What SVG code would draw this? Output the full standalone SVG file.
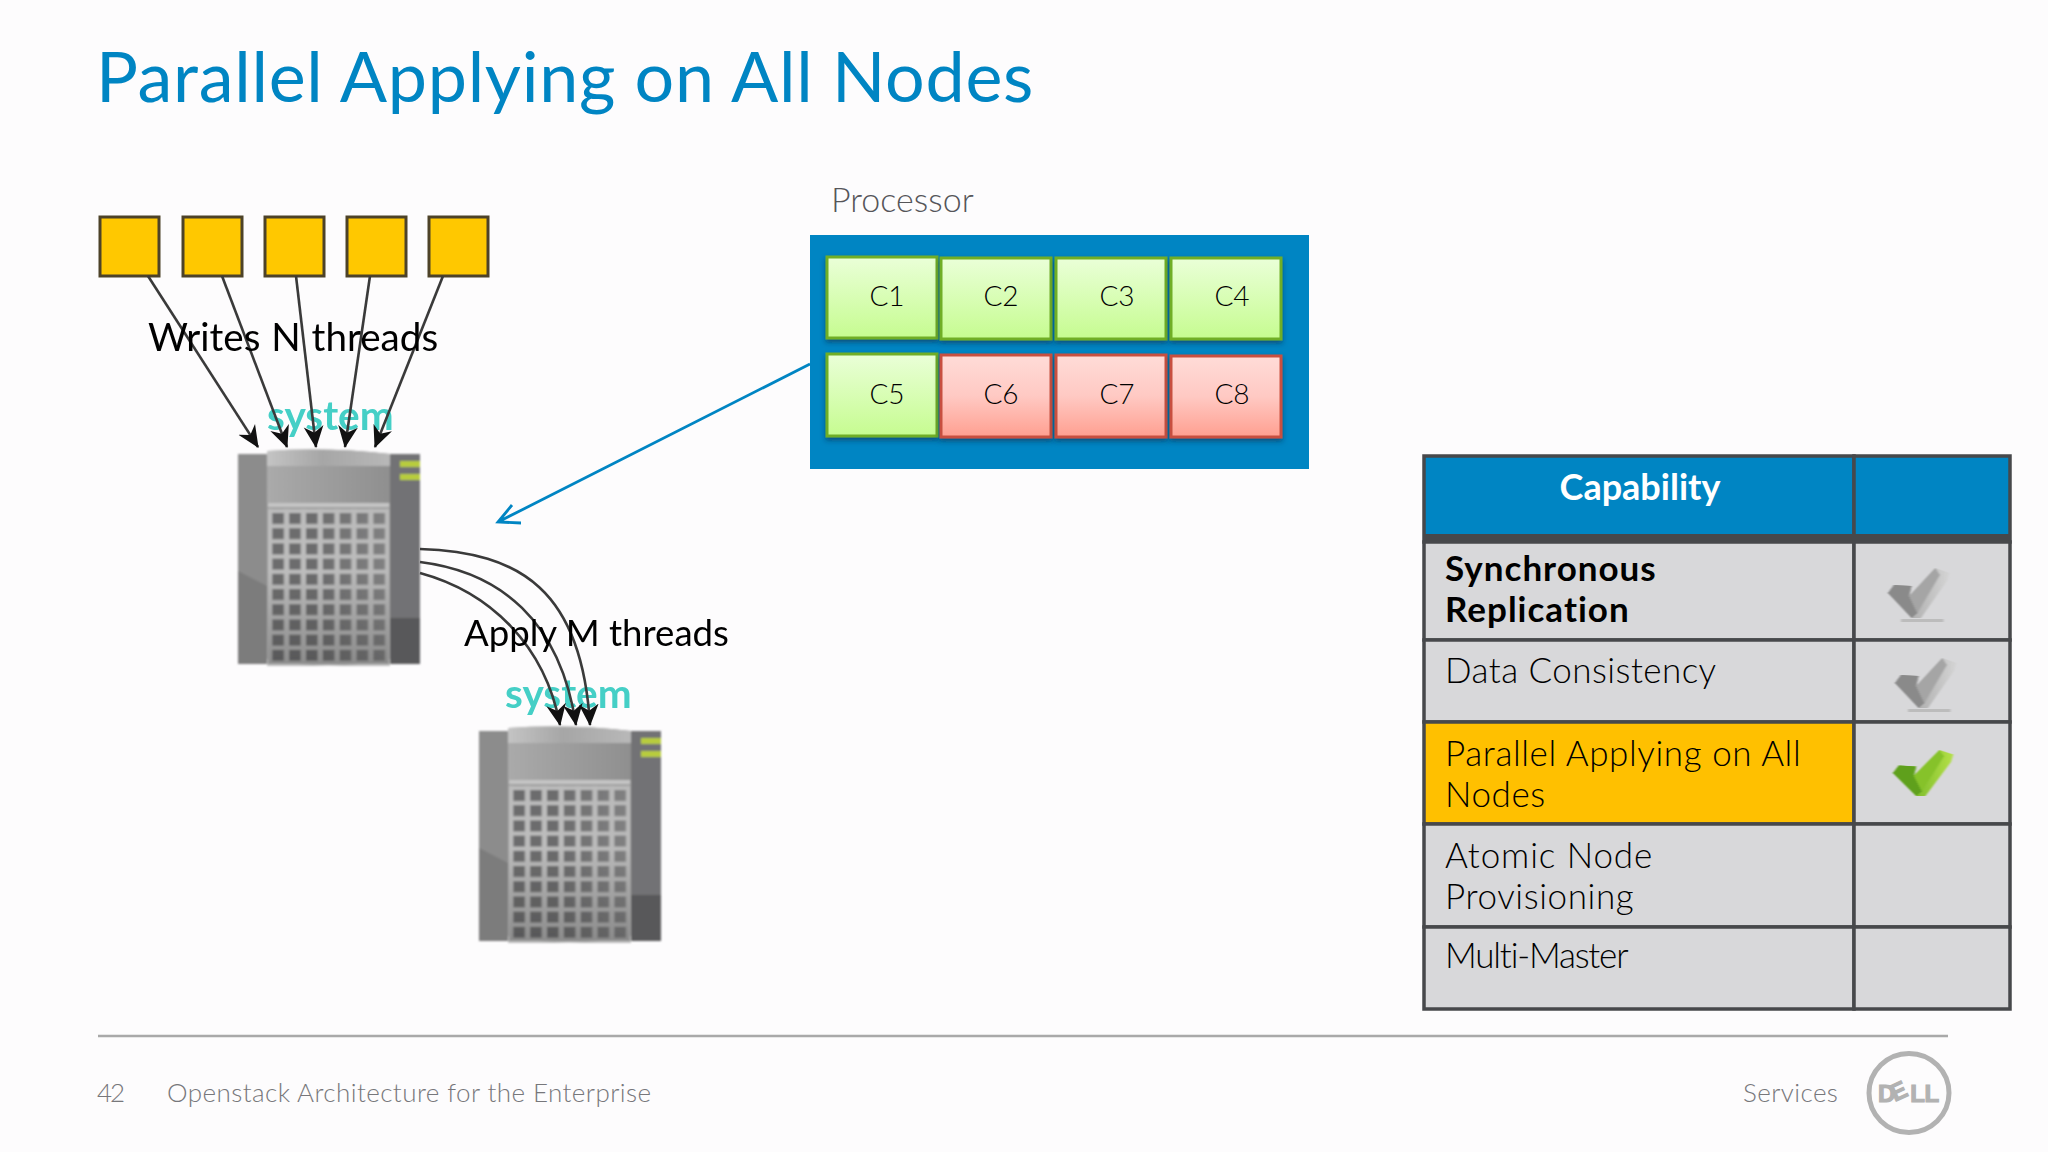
<svg xmlns="http://www.w3.org/2000/svg" xmlns:xlink="http://www.w3.org/1999/xlink" width="2048" height="1152" viewBox="0 0 2048 1152">
<style>
text{font-family:"Lato","Open Sans","Liberation Sans",sans-serif;font-weight:300}
.title{font-size:70px;fill:#0085c3;font-weight:400;letter-spacing:0.7px}
.foot{font-size:26px;fill:#77777b;letter-spacing:0.42px}
.hand{font-size:38.6px;fill:#000;font-weight:400;filter:url(#soft)}
.hand2{font-size:36.6px;fill:#000;font-weight:400;filter:url(#soft)}
.sys{font-size:40.5px;fill:#45cfc6;font-weight:700;filter:url(#soft)}
.core{font-size:28px;fill:#000;text-anchor:middle;font-weight:300}
.cell{font-size:35px;fill:#000;letter-spacing:0.6px}
.bold{font-weight:700;letter-spacing:1px}
.y{fill:#ffc800;stroke:#4d4228;stroke-width:3}
.arrow{fill:none;stroke:#3a3a3a;stroke-width:2.6;marker-end:url(#blk)}
.g{fill:url(#gg);stroke:#6fae25;stroke-width:3}
.r{fill:url(#rg);stroke:#c8503f;stroke-width:3}
.tb{stroke:#47484b;stroke-width:3.5;fill:#d8d8da}
</style>
<defs>
<filter id="soft" x="-5%" y="-15%" width="110%" height="130%"><feGaussianBlur stdDeviation="0.7"/></filter>
<filter id="blur1" x="-5%" y="-5%" width="110%" height="110%"><feGaussianBlur stdDeviation="1.1"/></filter>
<filter id="sh" x="-10%" y="-10%" width="120%" height="125%"><feDropShadow dx="0" dy="3" stdDeviation="2.5" flood-color="#0b2a45" flood-opacity="0.55"/></filter>
<linearGradient id="gg" x1="0" y1="0" x2="0" y2="1"><stop offset="0" stop-color="#eaffd8"/><stop offset="1" stop-color="#c6fc90"/></linearGradient>
<linearGradient id="rg" x1="0" y1="0" x2="0" y2="1"><stop offset="0" stop-color="#ffdcd8"/><stop offset="0.5" stop-color="#ffc9c3"/><stop offset="1" stop-color="#ff9f90"/></linearGradient>
<linearGradient id="topb" x1="0" y1="0" x2="1" y2="0"><stop offset="0" stop-color="#c4c4c4"/><stop offset="0.45" stop-color="#a6a6a6"/><stop offset="1" stop-color="#b8b8b8"/></linearGradient>
<linearGradient id="mid" x1="0" y1="0" x2="1" y2="0"><stop offset="0" stop-color="#aaa"/><stop offset="1" stop-color="#8f8f8f"/></linearGradient>
<linearGradient id="fadeR" x1="0" y1="0" x2="1" y2="0"><stop offset="0.4" stop-color="#b4b4b4" stop-opacity="0"/><stop offset="1" stop-color="#b4b4b4" stop-opacity="0.3"/></linearGradient>
<linearGradient id="fadeD" x1="0" y1="0" x2="0" y2="1"><stop offset="0.4" stop-color="#333" stop-opacity="0"/><stop offset="1" stop-color="#333" stop-opacity="0.35"/></linearGradient>
<linearGradient id="chkg" x1="0" y1="0" x2="1" y2="0"><stop offset="0" stop-color="#9a9a9a"/><stop offset="1" stop-color="#d4d4d4"/></linearGradient>
<linearGradient id="chkv" x1="0" y1="0" x2="1" y2="0"><stop offset="0" stop-color="#5ea81a"/><stop offset="1" stop-color="#b4e048"/></linearGradient>
<pattern id="grid" patternUnits="userSpaceOnUse" x="34.3" y="59" width="16.85" height="15.2"><rect width="16.85" height="15.2" fill="#bcbcbc"/><rect x="0" y="0" width="11.6" height="11" fill="#6c6c6d"/></pattern>
<marker id="blk" viewBox="0 0 20 20" refX="19" refY="10" markerWidth="22" markerHeight="22" markerUnits="userSpaceOnUse" orient="auto"><path d="M0 1 L20 10 L0 19 L6 10 Z" fill="#111"/></marker>
<g id="server" filter="url(#blur1)">
<rect x="0" y="0" width="182" height="210" fill="#8c8c8c"/>
<rect x="152" y="0" width="30" height="210" fill="#727274"/>
<rect x="152" y="164" width="30" height="46" fill="#59585a"/>
<path d="M0 117 L29 132 V210 H0 Z" fill="#7c7c7c"/>
<path d="M29 -3 Q90 -7 152 0 V50 H29 Z" fill="url(#mid)"/>
<path d="M29 -3 Q90 -7 152 0 V12 H29 Z" fill="url(#topb)"/>
<rect x="29" y="49" width="123" height="162" fill="#a0a0a0"/>
<path d="M29 205 Q90 218 152 205 V212 H29 Z" fill="#bdbdbd"/>
<rect x="30" y="49" width="121" height="4" fill="#c4c4c4"/>
<rect x="30" y="55" width="121" height="155" fill="url(#grid)"/>
<rect x="30" y="55" width="121" height="155" fill="url(#fadeR)"/>
<rect x="30" y="55" width="121" height="155" fill="url(#fadeD)"/>
<rect x="162" y="7" width="20" height="6" fill="#b8cc3c"/>
<rect x="162" y="20" width="20" height="6" fill="#b8cc3c"/>
</g>
<g id="chk" filter="url(#soft)">
<path d="M0 26 L5 18 L20 19 L18 29 L40 1 L52 6 L50 14 L28 51 L20 51 Z" fill="url(#chkg)"/>
<path d="M5 18 L20 19 L18 29 L25 46 L20 51 L0 26 Z" fill="#8a8a8a"/>
<path d="M18 29 L40 1 L44 8 L25 46 Z" fill="#a5a5a5"/>
<rect x="11" y="52" width="36" height="3" fill="#bcbcbc"/>
</g>
</defs>
<rect width="2048" height="1152" fill="#fdfcfd"/>
<text class="title" x="96" y="102">Parallel Applying on All Nodes</text>

<g id="writers">
<rect id="w1" class="y" x="100" y="217" width="59" height="59"/>
<rect id="w2" class="y" x="183" y="217" width="59" height="59"/>
<rect id="w3" class="y" x="265" y="217" width="59" height="59"/>
<rect id="w4" class="y" x="347" y="217" width="59" height="59"/>
<rect id="w5" class="y" x="429" y="217" width="59" height="59"/>
</g>
<g id="server1"><use xlink:href="#server" href="#server" x="238" y="454"/></g>
<g id="server2"><use xlink:href="#server" href="#server" x="479" y="731"/></g>
<text class="sys" x="267" y="430">system</text>
<text class="sys" x="505" y="708">system</text>
<g id="connectors">
<line class="arrow" x1="148" y1="276" x2="258" y2="447"/>
<line class="arrow" x1="222" y1="276" x2="287" y2="447"/>
<line class="arrow" x1="296" y1="276" x2="316" y2="447"/>
<line class="arrow" x1="370" y1="276" x2="345" y2="447"/>
<line class="arrow" x1="443" y1="276" x2="375" y2="447"/>
<path class="arrow" d="M420 549 C520 552 582 590 590 725"/>
<path class="arrow" d="M420 562 C500 572 560 620 576 725"/>
<path class="arrow" d="M420 573 C490 592 545 645 560 725"/>
<path d="M810 364 L498 522 M512 505 L498 522 L521 523" fill="none" stroke="#0085c3" stroke-width="2.8"/>
</g>
<text class="hand" x="148" y="351" word-spacing="1">Writes N threads</text>
<text class="hand2" x="464" y="646">Apply M threads</text>

<text x="831" y="212" font-size="34" fill="#555559">Processor</text>
<g id="processor">
<rect x="810" y="235" width="499" height="234" fill="#0085c3"/>
<g id="C1"><rect class="g" filter="url(#sh)" x="827" y="257" width="110" height="81"/><text class="core" x="887" y="306">C1</text></g>
<g id="C2"><rect class="g" filter="url(#sh)" x="941" y="258" width="110" height="81"/><text class="core" x="1001" y="306">C2</text></g>
<g id="C3"><rect class="g" filter="url(#sh)" x="1056" y="258" width="110" height="81"/><text class="core" x="1117" y="306">C3</text></g>
<g id="C4"><rect class="g" filter="url(#sh)" x="1171" y="258" width="110" height="81"/><text class="core" x="1232" y="306">C4</text></g>
<g id="C5"><rect class="g" filter="url(#sh)" x="827" y="354" width="110" height="82"/><text class="core" x="887" y="404">C5</text></g>
<g id="C6"><rect class="r" filter="url(#sh)" x="941" y="355" width="110" height="82"/><text class="core" x="1001" y="404">C6</text></g>
<g id="C7"><rect class="r" filter="url(#sh)" x="1056" y="355" width="110" height="82"/><text class="core" x="1117" y="404">C7</text></g>
<g id="C8"><rect class="r" filter="url(#sh)" x="1171" y="356" width="110" height="81"/><text class="core" x="1232" y="404">C8</text></g>
</g>

<g id="table">
<rect x="1424" y="456" width="430" height="86" fill="#0085c3" stroke="#47484b" stroke-width="3.5"/>
<rect x="1854" y="456" width="156" height="86" fill="#0085c3" stroke="#47484b" stroke-width="3.5"/>
<rect x="1424" y="534" width="586" height="8" fill="#47484b"/>
<rect class="tb" x="1424" y="542" width="430" height="98"/><rect class="tb" x="1854" y="542" width="156" height="98"/>
<rect class="tb" x="1424" y="640" width="430" height="82"/><rect class="tb" x="1854" y="640" width="156" height="82"/>
<rect class="tb" style="fill:#ffc000" x="1424" y="722" width="430" height="102"/><rect class="tb" x="1854" y="722" width="156" height="102"/>
<rect class="tb" x="1424" y="824" width="430" height="103"/><rect class="tb" x="1854" y="824" width="156" height="103"/>
<rect class="tb" x="1424" y="927" width="430" height="82"/><rect class="tb" x="1854" y="927" width="156" height="82"/>
<text x="1640" y="500" font-size="36" fill="#fff" text-anchor="middle" style="font-weight:700">Capability</text>
<text class="cell bold" x="1445" y="581">Synchronous</text>
<text class="cell bold" x="1445" y="622">Replication</text>
<text class="cell" x="1445" y="683" style="letter-spacing:0.45px">Data Consistency</text>
<text class="cell" x="1445" y="766" style="letter-spacing:0.6px">Parallel Applying on All</text>
<text class="cell" x="1445" y="807">Nodes</text>
<text class="cell" x="1445" y="868" style="letter-spacing:0.9px">Atomic Node</text>
<text class="cell" x="1445" y="909" style="letter-spacing:0.6px">Provisioning</text>
<text class="cell" x="1445" y="968" style="letter-spacing:-1.2px">Multi-Master</text>
<use xlink:href="#chk" href="#chk" transform="translate(1888 567) scale(1.18 1)"/>
<use xlink:href="#chk" href="#chk" transform="translate(1895 657) scale(1.18 1)"/>
<g id="greencheck" filter="url(#soft)" transform="translate(1893 749) scale(1.16 0.92)">
<path d="M0 26 L5 18 L20 19 L18 29 L40 1 L52 6 L50 14 L28 51 L20 51 Z" fill="url(#chkv)"/>
<path d="M5 18 L20 19 L18 29 L25 46 L20 51 L0 26 Z" fill="#5ea01c"/>
<path d="M18 29 L40 1 L44 8 L25 46 Z" fill="#86c22c"/>
</g>
</g>

<g id="footer">
<line x1="98" y1="1036" x2="1948" y2="1036" stroke="#a9a9a9" stroke-width="2.5"/>
<text class="foot" x="97" y="1102" style="letter-spacing:-2px">42</text>
<text class="foot" x="167" y="1102">Openstack Architecture for the Enterprise</text>
<text class="foot" x="1743" y="1102">Services</text>
<g id="logo">
<ellipse cx="1909" cy="1093" rx="40" ry="39.5" fill="none" stroke="#b2b2b2" stroke-width="5"/>
<text x="1878" y="1102" font-size="24" fill="#b2b2b2" stroke="#b2b2b2" stroke-width="1.2" rotate="0 -25 0 0" letter-spacing="-0.5" style="font-family:'Liberation Sans',sans-serif;font-weight:700">DELL</text>
</g>
</g>
</svg>
